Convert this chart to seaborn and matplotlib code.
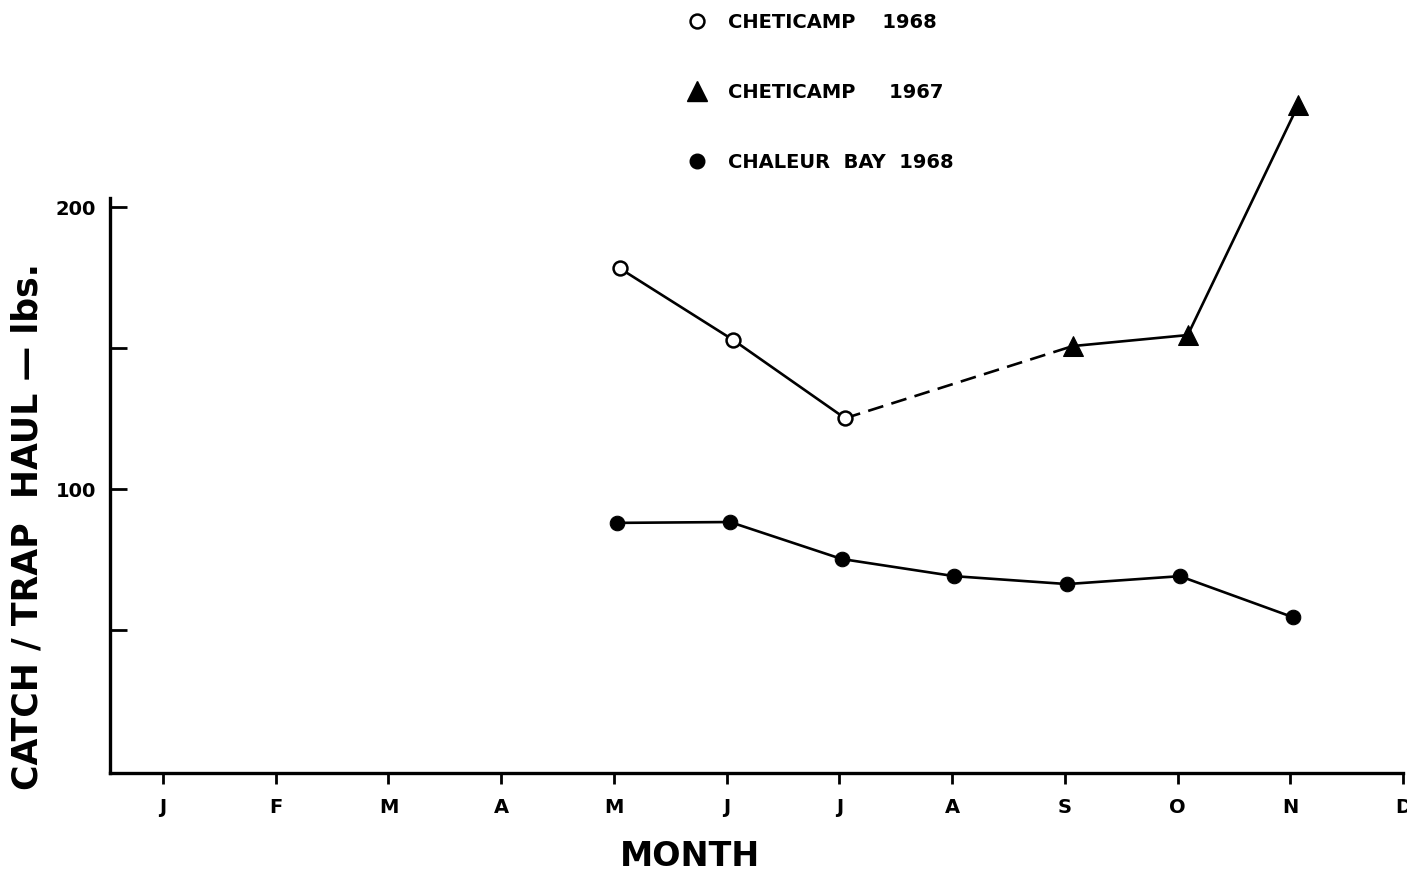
import matplotlib
matplotlib.use("Agg")
import matplotlib.pyplot as plt
from matplotlib.lines import Line2D
import seaborn as sns

# Month axis
month_positions = list(range(1, 13))
month_labels = ["J", "F", "M", "A", "M", "J", "J", "A", "S", "O", "N", "D"]

# Cheticamp 1968 (May - July)
chet68_month = [5.05, 6.06, 7.05]
chet68_catch = [178.3, 152.8, 125.1]

# Cheticamp 1967 (September - November)
chet67_month = [9.07, 10.09, 11.07]
chet67_catch = [150.7, 154.6, 236.2]

# Chaleur Bay 1968 (May - November)
chaleur_month = [5.03, 6.03, 7.02, 8.02, 9.02, 10.02, 11.02]
chaleur_catch = [88.0, 88.3, 75.2, 69.1, 66.3, 69.1, 54.6]

y_ticks = [50, 100, 150, 200]
y_ticklabels = ["", "100", "", "200"]

sns.set_theme(style="ticks")
plt.rcParams["font.family"] = ["DejaVu Sans"]
plt.rcParams["font.weight"] = "bold"
plt.rcParams["text.color"] = "black"
plt.rcParams["xtick.color"] = "black"
plt.rcParams["ytick.color"] = "black"
plt.rcParams["xtick.labelcolor"] = "black"
plt.rcParams["ytick.labelcolor"] = "black"

fig = plt.figure(figsize=(14.07, 8.73), dpi=100)
ax = fig.add_axes([0.0782, 0.1145, 0.919, 0.7824])

lw = 1.9

# dashed link between the two Cheticamp seasons
ax.plot([chet68_month[-1], chet67_month[0]], [chet68_catch[-1], chet67_catch[0]],
        color="black", lw=lw, linestyle=(0, (6, 3.2)), zorder=2)

sns.lineplot(x=chet68_month, y=chet68_catch, ax=ax, color="black", lw=lw,
             marker="o", markersize=10, markerfacecolor="white",
             markeredgecolor="black", markeredgewidth=1.8, zorder=3, clip_on=False)
sns.lineplot(x=chet67_month, y=chet67_catch, ax=ax, color="black", lw=lw,
             marker="^", markersize=14, markerfacecolor="black",
             markeredgecolor="black", zorder=3, clip_on=False)
sns.lineplot(x=chaleur_month, y=chaleur_catch, ax=ax, color="black", lw=lw,
             marker="o", markersize=10.5, markerfacecolor="black",
             markeredgecolor="black", zorder=3, clip_on=False)

ax.set_xlim(0.53, 12.0)
ax.set_ylim(-0.71, 241.5)

ax.set_xticks(month_positions)
ax.set_xticklabels(month_labels, fontsize=14, fontweight="bold", color="black")
ax.set_yticks(y_ticks)
ax.set_yticklabels(y_ticklabels, fontsize=14, fontweight="bold", color="black")

ax.tick_params(axis="x", direction="out", length=8, width=2, pad=10, color="black")
ax.tick_params(axis="y", direction="in", length=12, width=2, pad=10, color="black")

for side in ("top", "right"):
    ax.spines[side].set_visible(False)
for side in ("left", "bottom"):
    ax.spines[side].set_linewidth(2.4)
    ax.spines[side].set_color("black")
ax.spines["left"].set_bounds(-0.71, 203.2)

ax.set_xlabel("")
ax.set_ylabel("")

fig.text(28 / 1407, 1 - 527 / 873, "CATCH / TRAP  HAUL — lbs.", rotation=90,
         ha="center", va="center", fontsize=25, fontweight="bold", color="black")
fig.text(690 / 1407, 1 - 857 / 873, "MONTH", ha="center", va="center",
         fontsize=24, fontweight="bold", color="black")

handles = [
    Line2D([], [], linestyle="none", marker="o", markersize=10,
           markerfacecolor="white", markeredgecolor="black", markeredgewidth=1.8),
    Line2D([], [], linestyle="none", marker="^", markersize=14,
           markerfacecolor="black", markeredgecolor="black"),
    Line2D([], [], linestyle="none", marker="o", markersize=10.5,
           markerfacecolor="black", markeredgecolor="black"),
]
labels = ["CHETICAMP    1968", "CHETICAMP     1967", "CHALEUR  BAY  1968"]
leg = fig.legend(handles, labels, loc="upper left",
                 bbox_to_anchor=(687 / 1407, 1 - 13 / 873),
                 frameon=False, prop={"weight": "bold", "size": 14},
                 handlelength=1.0, handletextpad=1.1, labelspacing=2.62,
                 borderpad=0, borderaxespad=0)
for t in leg.get_texts():
    t.set_color("black")

fig.savefig("out.png", dpi=100)
